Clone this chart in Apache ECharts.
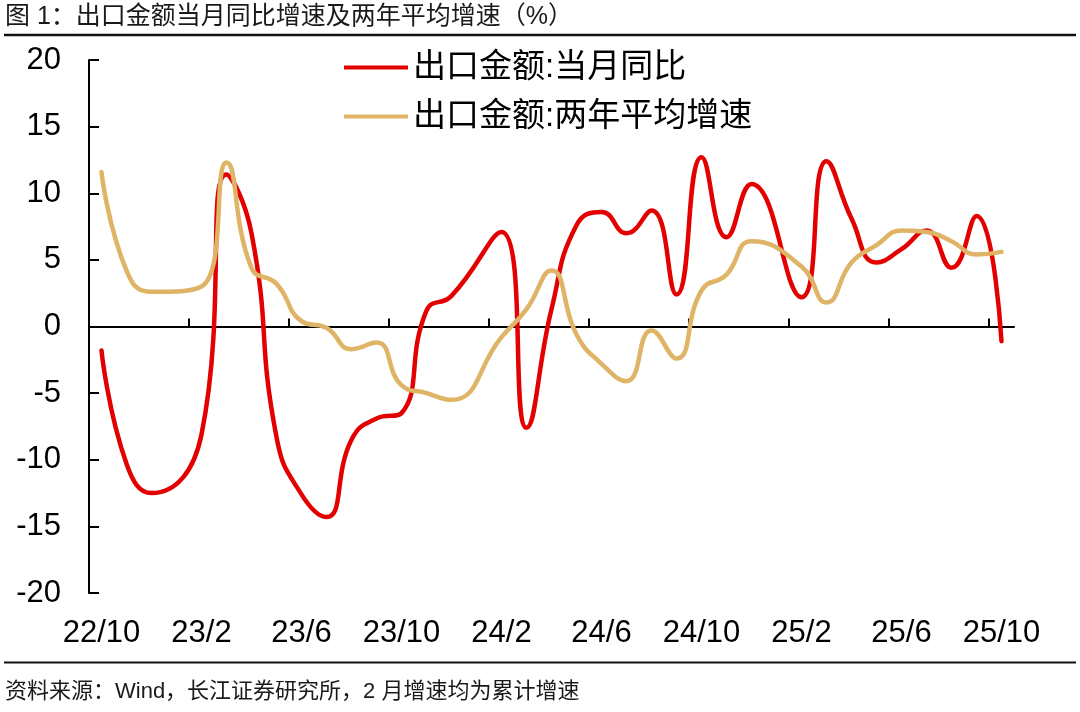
<!DOCTYPE html>
<html lang="zh-CN">
<head>
    <meta charset="UTF-8">
    <title>出口金额当月同比增速及两年平均增速</title>
    <style>
        html, body {
            margin: 0;
            padding: 0;
            width: 100%;
            height: 100%;
            background: #ffffff;
            overflow: hidden;
        }

        #container {
            width: 1080px;
            height: 712px;
        }
    </style>
</head>
<body>
<div id="container"></div>
<script type="text/javascript" src="https://cdn.jsdelivr.net/npm/echarts@6/dist/echarts.min.js"></script>
<script>
    // 月份（1月无单独数据，2月为累计增速）
    var months = ['22/10', '22/11', '22/12', '23/1', '23/2', '23/3', '23/4', '23/5', '23/6', '23/7', '23/8', '23/9',
        '23/10', '23/11', '23/12', '24/1', '24/2', '24/3', '24/4', '24/5', '24/6', '24/7', '24/8', '24/9',
        '24/10', '24/11', '24/12', '25/1', '25/2', '25/3', '25/4', '25/5', '25/6', '25/7', '25/8', '25/9', '25/10'];

    // 出口金额:当月同比（%）
    var yoy = [-1.8, -10.3, -12.5, null, -8.1, 11.4, 7.0, -8.3, -12.6, -14.3, -8.5, -6.9,
        -6.5, 1.2, 2.3, null, 7.1, -7.6, 1.3, 7.6, 8.6, 7.0, 8.7, 2.4,
        12.7, 6.7, 10.7, null, 2.2, 12.4, 8.1, 4.8, 5.8, 7.2, 4.4, 8.3, -1.1];

    // 出口金额:两年平均增速（%）
    var twoYear = [11.6, 4.2, 2.6, null, 3.0, 12.3, 4.4, 3.2, 0.4, -0.1, -1.7, -1.2,
        -4.4, -5.0, -5.5, null, -0.8, 1.3, 4.2, -0.6, -2.8, -4.1, -0.3, -2.4,
        2.7, 3.9, 6.4, null, 4.5, 1.8, 4.8, 6.1, 7.2, 7.1, 6.4, 5.4, 5.6];

    var seriesNames = ['出口金额:当月同比', '出口金额:两年平均增速'];
    var titleText = '图 1：出口金额当月同比增速及两年平均增速（%）';
    var sourceText = '资料来源：Wind，长江证券研究所，2 月增速均为累计增速';

    // 零轴刻度用：月份边界（比月份多一个）
    var monthEdges = months.concat(['']);

    var latin = "'Liberation Sans', 'Noto Sans CJK SC', sans-serif";

    var myChart = echarts.init(document.getElementById('container'));
    var option = {
        animation: false,
        backgroundColor: '#ffffff',
        graphic: [
            {
                type: 'text',
                left: 5,
                top: 5,
                style: {
                    text: titleText,
                    font: "25px " + latin,
                    fill: '#1a1a1a'
                }
            },
            {
                type: 'line',
                shape: {x1: 4, y1: 35, x2: 1076, y2: 35},
                style: {stroke: '#111', lineWidth: 2.5}
            },
            {
                type: 'line',
                shape: {x1: 4, y1: 662.5, x2: 1076, y2: 662.5},
                style: {stroke: '#111', lineWidth: 2}
            },
            {
                type: 'text',
                left: 5,
                top: 681,
                style: {
                    text: sourceText,
                    font: "22px " + latin,
                    fill: '#1a1a1a'
                }
            }
        ],
        legend: {
            orient: 'vertical',
            left: 344,
            top: 51,
            itemWidth: 64,
            itemHeight: 4,
            itemGap: 16,
            icon: 'rect',
            padding: 0,
            textStyle: {
                fontSize: 33,
                fontFamily: latin,
                color: '#000'
            },
            data: seriesNames
        },
        grid: {
            left: 89,
            right: 66,
            top: 60,
            bottom: 119
        },
        xAxis: [
            {
                type: 'category',
                position: 'bottom',
                data: months,
                boundaryGap: true,
                axisLine: {show: false, onZero: false},
                axisTick: {show: false},
                axisLabel: {
                    interval: 3,
                    margin: 25,
                    fontSize: 31,
                    fontFamily: latin,
                    color: '#000'
                }
            },
            {
                // 零轴：刻度落在月份分界处
                type: 'category',
                position: 'top',
                data: monthEdges,
                boundaryGap: false,
                axisLine: {show: true, onZero: true, lineStyle: {color: '#000', width: 2}},
                axisTick: {show: true, inside: false, interval: 3, length: 8, lineStyle: {color: '#000', width: 2}},
                axisLabel: {show: false}
            }
        ],
        yAxis: {
            type: 'value',
            min: -20,
            max: 20,
            interval: 5,
            splitLine: {show: false},
            axisLine: {show: true, lineStyle: {color: '#000', width: 2}},
            axisTick: {show: true, inside: true, length: 10, lineStyle: {color: '#000', width: 2}},
            axisLabel: {
                margin: 28,
                fontSize: 31,
                fontFamily: latin,
                color: '#000'
            }
        },
        series: [
            {
                name: seriesNames[0],
                type: 'line',
                xAxisIndex: 0,
                data: yoy,
                smooth: 0.5,
                connectNulls: true,
                symbol: 'none',
                itemStyle: {color: '#e30000'},
                lineStyle: {color: '#e30000', width: 4.5, cap: 'round'}
            },
            {
                name: seriesNames[1],
                type: 'line',
                xAxisIndex: 0,
                data: twoYear,
                smooth: 0.5,
                connectNulls: true,
                symbol: 'none',
                itemStyle: {color: '#dfb466'},
                lineStyle: {color: '#dfb466', width: 4.5, cap: 'round'}
            }
        ]
    };

    myChart.setOption(option);
</script>
</body>
</html>
